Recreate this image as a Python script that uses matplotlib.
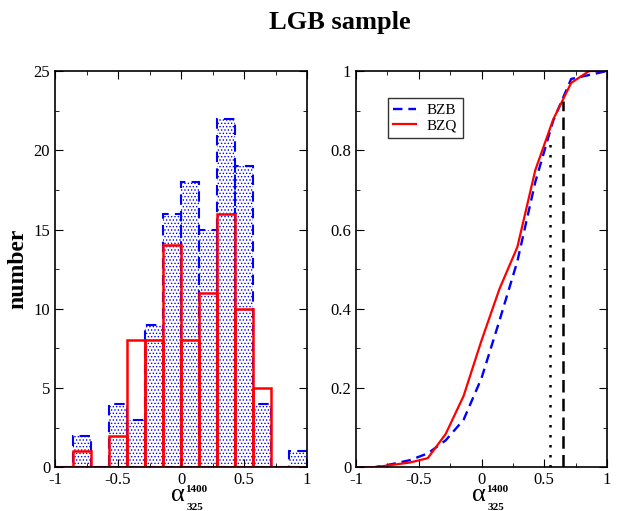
import numpy as np
import matplotlib
matplotlib.use("Agg")
import matplotlib.pyplot as plt
from matplotlib.ticker import MultipleLocator

plt.rcParams['font.family'] = ['Liberation Serif', 'DejaVu Serif']
plt.rcParams['hatch.linewidth'] = 0.6

# histogram bins (14 bins from -1 to 1)
bin_edges = np.linspace(-1, 1, 15)
bzb_counts = [0, 2, 0, 4, 3, 9, 16, 18, 15, 22, 19, 4, 0, 1]
bzq_counts = [0, 1, 0, 2, 8, 8, 14, 8, 11, 16, 10, 5, 0, 0]

# cumulative fractions read at the bin edges
bzb_cdf = [0, 0.0, 0.008, 0.018, 0.035, 0.068, 0.12, 0.225, 0.37, 0.52, 0.72, 0.875, 0.98, 0.99, 1.0]
bzq_cdf = [0, 0.0, 0.006, 0.012, 0.023, 0.084, 0.18, 0.32, 0.45, 0.556, 0.75, 0.878, 0.97, 1.0, 1.0]

# vertical markers on the cdf panel
dot_x, dot_top = 0.546, 0.82
dash_x, dash_top = 0.647, 0.925

fig = plt.figure(figsize=(6.31, 5.11), dpi=100)
ax1 = fig.add_axes([0.0872, 0.0855, 0.3994, 0.7755])
ax2 = fig.add_axes([0.5642, 0.0855, 0.3978, 0.7755])

centers = (bin_edges[:-1] + bin_edges[1:]) / 2
width = bin_edges[1] - bin_edges[0]

# BZB: dotted fill, dashed outline
ax1.bar(centers, bzb_counts, width=width, color='white', edgecolor='blue',
        hatch='.....', linewidth=0)
ax1.bar(centers, bzb_counts, width=width, fill=False, edgecolor='blue',
        linewidth=1.5, linestyle=(0, (5, 3)))
# BZQ: red outline
ax1.bar(centers, bzq_counts, width=width, fill=False, edgecolor='red',
        linewidth=1.8)

ax1.set_xlim(-1, 1)
ax1.set_ylim(0, 25)
ax1.set_xticks([-1, -0.5, 0, 0.5, 1])
ax1.set_xticklabels(['-1', '-0.5', '0', '0.5', '1'])
ax1.xaxis.set_minor_locator(MultipleLocator(0.25))
ax1.yaxis.set_major_locator(MultipleLocator(5))
ax1.yaxis.set_minor_locator(MultipleLocator(2.5))
ax1.set_ylabel('number', fontsize=17, fontweight='bold', labelpad=4)

# CDF panel
ax2.plot(bin_edges, bzb_cdf, color='blue', linestyle=(0, (4, 2.5)), linewidth=1.7, label='BZB')
ax2.plot(bin_edges, bzq_cdf, color='red', linewidth=1.6, label='BZQ')
ax2.plot([dot_x, dot_x], [0, dot_top], color='black', linestyle=(0, (1, 3)), linewidth=1.8)
ax2.plot([dash_x, dash_x], [0, dash_top], color='black', linestyle=(0, (5, 2.5)), linewidth=1.8)
ax2.set_xlim(-1, 1)
ax2.set_ylim(0, 1)
ax2.set_xticks([-1, -0.5, 0, 0.5, 1])
ax2.set_xticklabels(['-1', '-0.5', '0', '0.5', '1'])
ax2.xaxis.set_minor_locator(MultipleLocator(0.25))
ax2.set_yticks([0, 0.2, 0.4, 0.6, 0.8, 1])
ax2.set_yticklabels(['0', '0.2', '0.4', '0.6', '0.8', '1'])
ax2.yaxis.set_minor_locator(MultipleLocator(0.1))
leg = ax2.legend(loc='upper left', bbox_to_anchor=(0.127, 0.932), fontsize=11,
                 frameon=True, fancybox=False, edgecolor='black',
                 handlelength=1.5, borderpad=0.35, labelspacing=0.1,
                 handletextpad=0.7, borderaxespad=0)
leg.get_frame().set_linewidth(1.0)

for ax in (ax1, ax2):
    ax.tick_params(which='both', direction='in', top=True, right=True, labelsize=12)
    ax.tick_params(which='major', length=6)
    ax.tick_params(which='minor', length=3)
    for s in ax.spines.values():
        s.set_linewidth(1.2)
    tr = ax.get_xaxis_transform()
    # alpha with stacked 1400 / 325 indices
    ax.text(0.03, -0.086, 'α', transform=tr, ha='right', va='baseline', fontsize=19)
    ax.text(0.035, -0.063, '1400', transform=tr, ha='left', va='baseline',
            fontsize=8, fontweight='bold')
    ax.text(0.045, -0.089, '325', transform=tr, ha='left', va='top',
            fontsize=8, fontweight='bold')

fig.text(0.538, 0.955, 'LGB sample', ha='center', va='center', fontsize=19, fontweight='bold')

fig.savefig('out.png', dpi=100)
